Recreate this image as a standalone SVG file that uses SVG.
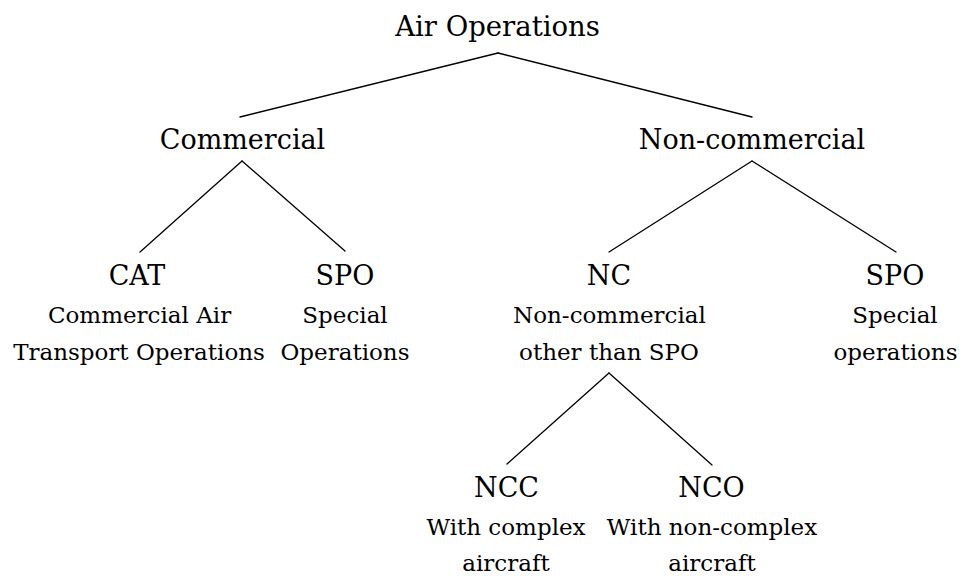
<svg xmlns="http://www.w3.org/2000/svg" width="972" height="576" viewBox="0 0 972 576">
<style>
text{font-family:"DejaVu Serif","Liberation Serif",serif;fill:#000;text-anchor:middle}
.root{font-size:27.5px}
.big{font-size:27px}
.small{font-size:23px}
.edge{stroke:#000;stroke-width:1.3;fill:none;stroke-linecap:round}
</style>
<rect width="972" height="576" fill="#fff"/>
<g id="connectors">
<line class="edge" x1="498" y1="53" x2="240" y2="117"/>
<line class="edge" x1="498" y1="53" x2="752" y2="117"/>
<line class="edge" x1="242" y1="161" x2="140" y2="252"/>
<line class="edge" x1="242" y1="161" x2="345" y2="251"/>
<line class="edge" x1="752" y1="161" x2="609" y2="252"/>
<line class="edge" x1="752" y1="161" x2="896" y2="252"/>
<line class="edge" x1="609" y1="373" x2="507" y2="464"/>
<line class="edge" x1="609" y1="373" x2="712" y2="465"/>
</g>
<g id="root"><text class="root" x="497.5" y="36">Air Operations</text></g>
<g id="commercial"><text class="big" x="242.5" y="149">Commercial</text></g>
<g id="noncommercial"><text class="big" x="752" y="149">Non-commercial</text></g>
<g id="cat">
<text class="big" x="137" y="285">CAT</text>
<text class="small" x="139.5" y="323">Commercial Air</text>
<text class="small" x="139" y="360">Transport Operations</text>
</g>
<g id="spo-commercial">
<text class="big" x="345" y="285">SPO</text>
<text class="small" x="345" y="323">Special</text>
<text class="small" x="345" y="360">Operations</text>
</g>
<g id="nc">
<text class="big" x="609" y="285">NC</text>
<text class="small" x="609.5" y="323">Non-commercial</text>
<text class="small" x="609" y="360">other than SPO</text>
</g>
<g id="spo-noncommercial">
<text class="big" x="895" y="285">SPO</text>
<text class="small" x="895" y="323">Special</text>
<text class="small" x="895.5" y="360">operations</text>
</g>
<g id="ncc">
<text class="big" x="506.5" y="497">NCC</text>
<text class="small" x="506" y="535">With complex</text>
<text class="small" x="506" y="571">aircraft</text>
</g>
<g id="nco">
<text class="big" x="711.5" y="497">NCO</text>
<text class="small" x="712" y="535">With non-complex</text>
<text class="small" x="712" y="571">aircraft</text>
</g>
</svg>
